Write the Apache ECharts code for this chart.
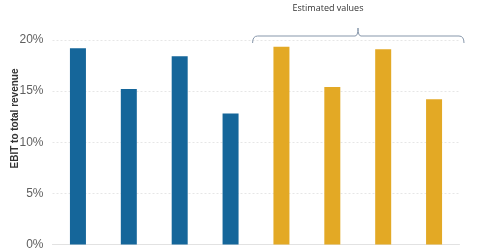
<!DOCTYPE html>
<html><head><meta charset="utf-8">
<script src="https://cdn.jsdelivr.net/npm/echarts@6/dist/echarts.min.js"></script>
<style>html,body{margin:0;padding:0;background:#fff}#c{width:480px;height:251px}</style>
</head><body><div id="c"></div>
<script>
const categories = ['A1','A2','A3','A4','E1','E2','E3','E4'];
const values = [19.2, 15.2, 18.4, 12.8, 19.35, 15.4, 19.1, 14.2];
const estimated = [false,false,false,false,true,true,true,true];
const yTicks = [0,5,10,15,20];
const colors = {actual:'#15669a', est:'#e3a925'};

const chart = echarts.init(document.getElementById('c'), null, {renderer:'canvas'});
chart.setOption({
  animation:false,
  grid:{left:52.5, right:20.5, top:40, bottom:6.5},
  xAxis:{type:'category', data:categories, axisLabel:{show:false}, axisTick:{show:false},
    axisLine:{lineStyle:{color:'#e2e2e2'}}},
  yAxis:{type:'value', min:yTicks[0], max:yTicks[yTicks.length-1], interval:5,
    axisLabel:{formatter:v=>v+'%', color:'#5f5f5f', fontSize:12, fontFamily:'Liberation Sans, Arial', margin:9},
    splitLine:{lineStyle:{color:'#e6e6e6', type:[2,2]}},
    axisLine:{show:false}, axisTick:{show:false}},
  series:[{type:'bar', barWidth:16,
    data:values.map((v,i)=>({value:v, itemStyle:{color:estimated[i]?colors.est:colors.actual}}))}]
});
const xl = chart.convertToPixel({xAxisIndex:0}, 4) - 25.45 - 3.4;
const xr = chart.convertToPixel({xAxisIndex:0}, 7) + 25.45 + 4.5;
const yb = 36;
const xm = 358;
const st = {stroke:'#8797ab', fill:null, lineWidth:1};
const g = [];
function curve(x1,y1,cx,cy,x2,y2){ g.push({type:'bezierCurve', shape:{x1:x1,y1:y1,cpx1:cx,cpy1:cy,x2:x2,y2:y2}, style:st}); }
function seg(x1,y1,x2,y2){ g.push({type:'line', shape:{x1:x1,y1:y1,x2:x2,y2:y2}, style:st}); }
curve(xl, yb+7, xl, yb, xl+5, yb);
seg(xl+5, yb, xm-3, yb);
curve(xm-3, yb, xm, yb, xm, yb-8);
curve(xm, yb-8, xm, yb, xm+3, yb);
seg(xm+3, yb, xr-5, yb);
curve(xr-5, yb, xr, yb, xr, yb+7);
g.push({type:'text', x:328, y:8, style:{text:'Estimated values', fill:'#333', font:'9px "Open Sans", sans-serif', align:'center', verticalAlign:'middle'}});
g.push({type:'text', x:15, y:118.5, rotation:Math.PI/2, style:{text:'EBIT to total revenue', fill:'#333', font:'bold 10px "Liberation Sans", Arial', align:'center', verticalAlign:'middle'}});
chart.setOption({graphic:g});
</script></body></html>
